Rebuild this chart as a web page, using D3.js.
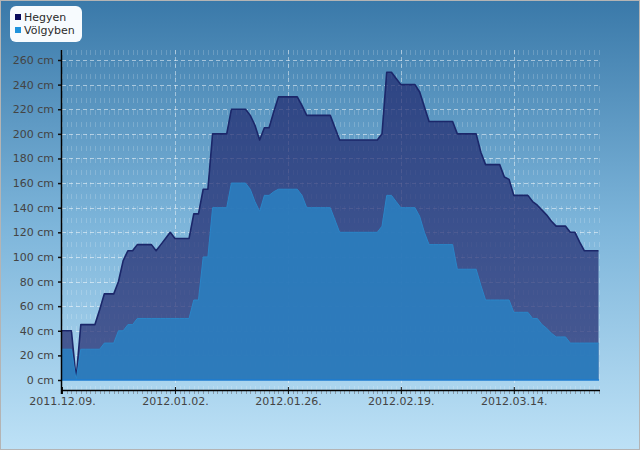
<!DOCTYPE html>
<html>
<head>
<meta charset="utf-8">
<script src="https://cdn.jsdelivr.net/npm/d3@7"></script>
<style>
  body { margin: 0; }
  svg { display: block; font-family: "DejaVu Sans", Verdana, sans-serif; }
</style>
</head>
<body>
<svg id="chart" width="640" height="450"></svg>
<script>
// snow depth (cm), one value per day from the start date
const startDate = "2011.12.09.";
const seriesNames = ["Hegyen", "Völgyben"];

const hegyen = [40, 40, 40, 1, 45, 45, 45, 45, 57, 70, 70, 70, 80, 97, 105, 105,
  110, 110, 110, 110, 105, 110, 115, 120, 115, 115, 115, 115, 135, 135, 155, 155,
  200, 200, 200, 200, 220, 220, 220, 220, 215, 207, 195, 205, 205, 218, 230, 230,
  230, 230, 230, 223, 215, 215, 215, 215, 215, 215, 205, 195, 195, 195, 195, 195,
  195, 195, 195, 195, 200, 250, 250, 245, 240, 240, 240, 240, 234, 222, 210, 210,
  210, 210, 210, 210, 200, 200, 200, 200, 200, 185, 175, 175, 175, 175, 165, 163,
  150, 150, 150, 150, 145, 142, 138, 134, 129, 125, 125, 125, 120, 120, 112, 105,
  105, 105, 105];

const volgyben = [25, 25, 25, 0, 25, 25, 25, 25, 25, 30, 30, 30, 40, 40, 45, 45,
  50, 50, 50, 50, 50, 50, 50, 50, 50, 50, 50, 50, 65, 65, 100, 100,
  140, 140, 140, 140, 160, 160, 160, 160, 155, 145, 137, 150, 150, 153, 155, 155,
  155, 155, 155, 150, 140, 140, 140, 140, 140, 140, 130, 120, 120, 120, 120, 120,
  120, 120, 120, 120, 125, 150, 150, 145, 140, 140, 140, 140, 133, 120, 110, 110,
  110, 110, 110, 110, 90, 90, 90, 90, 90, 77, 65, 65, 65, 65, 65, 65,
  55, 55, 55, 55, 50, 50, 45, 42, 38, 35, 35, 35, 30, 30, 30, 30,
  30, 30, 30];

const dateTicks = ["2011.12.09.", "2012.01.02.", "2012.01.26.", "2012.02.19.", "2012.03.14."];
const cmTicks = [0, 20, 40, 60, 80, 100, 120, 140, 160, 180, 200, 220, 240, 260];

// General Variables
let chart = d3.select("#chart");
let width = 640, height = 450;
let plotLeft = 61, plotRight = 600, plotTop = 50, plotBottom = 390;

let parse = d3.utcParse("%Y.%m.%d.");
let t0 = parse(startDate);
let days = hegyen.map(function(d, i) { return d3.utcDay.offset(t0, i); });
let allDays = d3.utcDay.range(t0, d3.utcDay.offset(days[days.length - 1], 1));

// x position scale
let x = d3.scaleUtc()
    .domain([t0, days[days.length - 1]])
    .range([62, 598.5]);

// y position scale
let y = d3.scaleLinear()
    .domain([0, 260])
    .range([380, 60]);

let defs = chart.append("defs");
let bg = defs.append("linearGradient")
    .attr("id", "bg")
    .attr("x1", 0).attr("y1", 0).attr("x2", 0).attr("y2", 1);
bg.append("stop").attr("offset", "0%").attr("stop-color", "#3a79a9");
bg.append("stop").attr("offset", "50%").attr("stop-color", "#7db5da");
bg.append("stop").attr("offset", "100%").attr("stop-color", "#bde1f6");

chart.append("rect")
    .attr("x", 0.5).attr("y", 0.5)
    .attr("width", width - 1).attr("height", height - 1)
    .attr("fill", "url(#bg)")
    .attr("stroke", "#b4b4b4");

// minor vertical grid, one per day
chart.append("g")
    .selectAll("line")
    .data(allDays)
    .enter()
    .append("line")
    .attr("x1", function(d) { return Math.round(x(d)) + 0.5; })
    .attr("x2", function(d) { return Math.round(x(d)) + 0.5; })
    .attr("y1", plotTop).attr("y2", plotBottom)
    .attr("stroke", "#ffffff")
    .attr("stroke-opacity", 0.18)
    .attr("stroke-dasharray", "5,7");

// major horizontal grid
chart.append("g")
    .selectAll("line")
    .data(cmTicks.filter(function(d) { return d > 0; }))
    .enter()
    .append("line")
    .attr("x1", 62).attr("x2", plotRight)
    .attr("y1", function(d) { return Math.round(y(d)) + 0.5; })
    .attr("y2", function(d) { return Math.round(y(d)) + 0.5; })
    .attr("stroke", "#ffffff")
    .attr("stroke-opacity", 0.5)
    .attr("stroke-dasharray", "4,3");

// major vertical grid
chart.append("g")
    .selectAll("line")
    .data(dateTicks.slice(1))
    .enter()
    .append("line")
    .attr("x1", function(d) { return Math.round(x(parse(d))) + 0.5; })
    .attr("x2", function(d) { return Math.round(x(parse(d))) + 0.5; })
    .attr("y1", plotTop).attr("y2", plotBottom)
    .attr("stroke", "#ffffff")
    .attr("stroke-opacity", 0.45)
    .attr("stroke-dasharray", "4,3");

// areas
let areaOf = function(values) {
    return d3.area()
        .x(function(d, i) { return x(days[i]); })
        .y0(y(0))
        .y1(function(d) { return y(d); })(values);
};
let lineOf = function(values) {
    return d3.line()
        .x(function(d, i) { return x(days[i]); })
        .y(function(d) { return y(d); })(values);
};

chart.append("path")
    .attr("d", areaOf(hegyen))
    .attr("fill", "#212a6f")
    .attr("fill-opacity", 0.72);
chart.append("path")
    .attr("d", lineOf(hegyen))
    .attr("fill", "none")
    .attr("stroke", "#1b276a")
    .attr("stroke-width", 1.6)
    .attr("stroke-linejoin", "round");

chart.append("path")
    .attr("d", areaOf(volgyben))
    .attr("fill", "#2a80c0")
    .attr("fill-opacity", 0.88);
chart.append("path")
    .attr("d", lineOf(volgyben))
    .attr("fill", "none")
    .attr("stroke", "#2a86c8")
    .attr("stroke-width", 1)
    .attr("stroke-linejoin", "round");

// zero line
chart.append("line")
    .attr("x1", 62).attr("x2", 599)
    .attr("y1", y(0)).attr("y2", y(0))
    .attr("stroke", "#1c7bd0")
    .attr("stroke-width", 1.5);

// x minor ticks
chart.append("g")
    .selectAll("line")
    .data(allDays)
    .enter()
    .append("line")
    .attr("x1", function(d) { return Math.round(x(d)) + 0.5; })
    .attr("x2", function(d) { return Math.round(x(d)) + 0.5; })
    .attr("y1", plotBottom).attr("y2", plotBottom + 4)
    .attr("stroke", "#8a9aa8");

// x axis
let xAxis = d3.axisBottom(x)
    .tickValues(dateTicks.map(parse))
    .tickFormat(d3.utcFormat("%Y.%m.%d."))
    .tickSize(4)
    .tickPadding(3);
let xAxisGroup = chart.append("g")
    .attr("transform", "translate(0," + plotBottom + ")")
    .call(xAxis);
xAxisGroup.select(".domain").remove();
xAxisGroup.selectAll(".tick line").attr("stroke", "#111").attr("y1", -3);
xAxisGroup.selectAll("text")
    .style("font-size", "11px")
    .style("fill", "#444")
    .style("font-family", "DejaVu Sans, sans-serif");

// y axis
let yAxis = d3.axisLeft(y)
    .tickValues(cmTicks)
    .tickFormat(function(d) { return d + " cm"; })
    .tickSize(3)
    .tickPadding(4);
let yAxisGroup = chart.append("g")
    .attr("transform", "translate(" + plotLeft + ",0)")
    .call(yAxis);
yAxisGroup.select(".domain").remove();
yAxisGroup.selectAll(".tick line").attr("stroke", "#111").attr("x2", -3).attr("x1", 1).attr("stroke-width", 1.5);
yAxisGroup.selectAll("text")
    .style("font-size", "11px")
    .style("fill", "#444")
    .style("font-family", "DejaVu Sans, sans-serif");

// axis lines
chart.append("line")
    .attr("x1", plotLeft + 0.5).attr("x2", plotLeft + 0.5)
    .attr("y1", plotTop).attr("y2", plotBottom + 4)
    .attr("stroke", "#000").attr("stroke-width", 1.5);
chart.append("line")
    .attr("x1", plotLeft).attr("x2", plotRight)
    .attr("y1", plotBottom + 0.5).attr("y2", plotBottom + 0.5)
    .attr("stroke", "#000").attr("stroke-width", 1.5);

// legend
let color = d3.scaleOrdinal()
    .domain(seriesNames)
    .range(["#0a0c5c", "#1f93dc"]);

chart.append("rect")
    .attr("x", 10).attr("y", 6)
    .attr("width", 72).attr("height", 36)
    .attr("rx", 6)
    .attr("fill", "#f7fbfe");

chart.selectAll("legsq")
    .data(seriesNames)
    .enter()
    .append("rect")
    .attr("x", 15)
    .attr("y", function(d, i) { return 14 + i * 13; })
    .attr("width", 6).attr("height", 6)
    .attr("fill", function(d) { return color(d); });

chart.selectAll("leglab")
    .data(seriesNames)
    .enter()
    .append("text")
    .attr("x", 24)
    .attr("y", function(d, i) { return 21 + i * 13; })
    .text(function(d) { return d; })
    .style("font-size", "11px")
    .style("fill", "#2b2b2b");
</script>
</body>
</html>
